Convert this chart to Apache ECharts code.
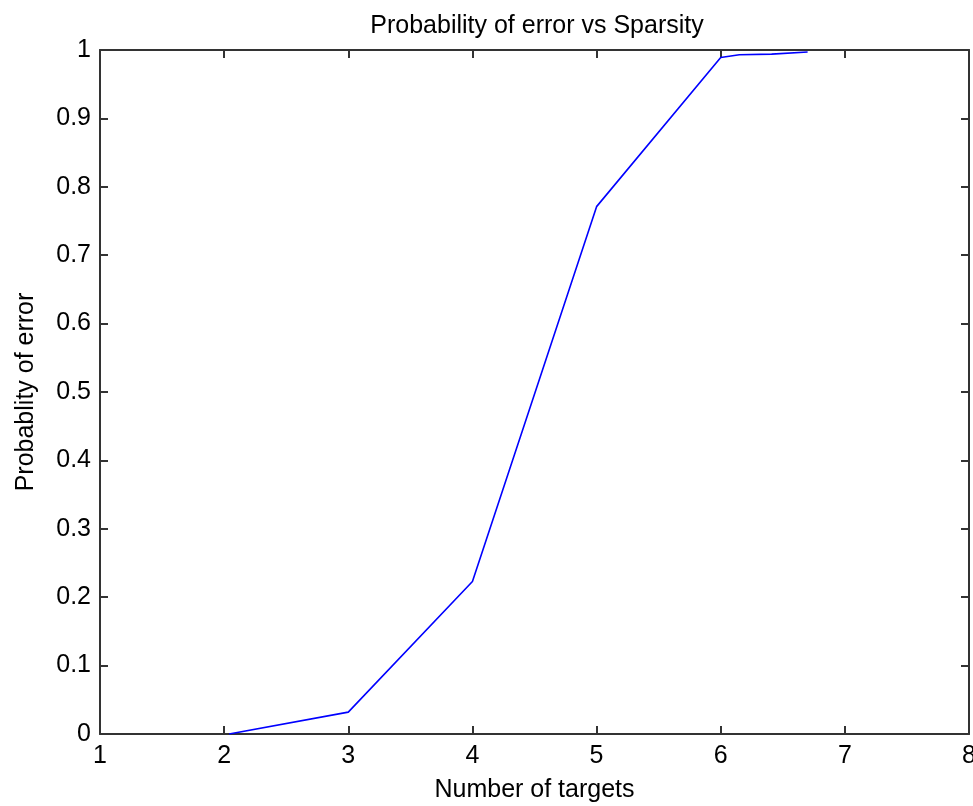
<!DOCTYPE html>
<html>
<head>
<meta charset="utf-8">
<script src="https://cdn.jsdelivr.net/npm/echarts@6/dist/echarts.min.js"></script>
<style>
  html, body { margin: 0; padding: 0; background: #fff; }
  #chart { width: 973px; height: 806px; }
</style>
</head>
<body>
<div id="chart"></div>
<script>
// number of targets (x) and probability of error (y)
const targets = [2.04, 3, 4, 5, 6, 6.15, 6.41, 6.7]
const errorProb = [0, 0.032, 0.223, 0.771, 0.989, 0.993, 0.994, 0.997]

const font = 'Liberation Sans, Arial, sans-serif'
const axisColor = '#333'

const chart = echarts.init(document.getElementById('chart'))

// inward ticks on every side, like a boxed matlab axes
const boxAxis = (pos, extra) => Object.assign({
  type: 'value',
  position: pos,
  axisLine: { show: true, onZero: false, lineStyle: { color: axisColor, width: 2 } },
  axisTick: { show: true, inside: true, length: 8, lineStyle: { color: axisColor, width: 2 } },
  splitLine: { show: false }
}, extra)

const option = {
  animation: false,
  backgroundColor: '#fff',
  title: {
    text: 'Probability of error vs Sparsity',
    left: 532,
    textAlign: 'center',
    top: 9,
    textStyle: { fontFamily: font, fontSize: 25, fontWeight: 'normal', color: '#000' }
  },
  grid: { left: 100, right: 4, top: 50, bottom: 72, outerBoundsMode: 'none' },
  xAxis: [
    boxAxis('bottom', {
      min: 1, max: 8, interval: 1,
      name: 'Number of targets',
      nameLocation: 'middle',
      nameGap: 44,
      nameTextStyle: { fontFamily: font, fontSize: 25, color: '#000' },
      axisLabel: { fontFamily: font, fontSize: 25, color: '#000', margin: 10 }
    }),
    boxAxis('top', { min: 1, max: 8, interval: 1, axisLabel: { show: false } })
  ],
  yAxis: [
    boxAxis('left', {
      min: 0, max: 1, interval: 0.1,
      name: 'Probablity of error',
      nameLocation: 'middle',
      nameGap: 61,
      nameTextStyle: { fontFamily: font, fontSize: 25, color: '#000' },
      axisLabel: { fontFamily: font, fontSize: 25, color: '#000', margin: 9 }
    }),
    boxAxis('right', { min: 0, max: 1, interval: 0.1, axisLabel: { show: false } })
  ],
  series: [
    {
      type: 'line',
      data: targets.map((x, i) => [x, errorProb[i]]),
      showSymbol: false,
      lineStyle: { color: '#0000ff', width: 1.6 },
      z: 1
    }
  ]
}

chart.setOption(option)
</script>
</body>
</html>
